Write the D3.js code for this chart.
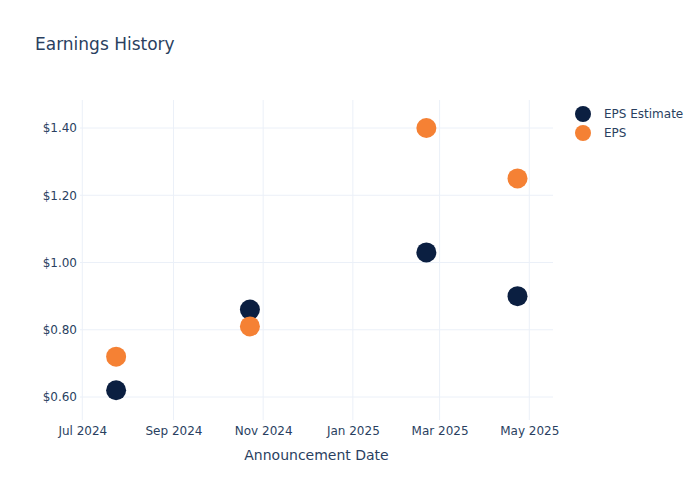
<!DOCTYPE html>
<html>
<head>
<meta charset="utf-8">
<script src="https://cdn.jsdelivr.net/npm/d3@7"></script>
<style>
  body { margin: 0; background: #fff; }
  text { font-family: "DejaVu Sans", Verdana, sans-serif; fill: #2a3f5f; }
</style>
</head>
<body>
<div id="chart"></div>
<script>
// data
const dates = ["2024-07-24", "2024-10-23", "2025-02-20", "2025-04-23"];
const epsEstimate = [0.62, 0.86, 1.03, 0.90];
const eps = [0.72, 0.81, 1.40, 1.25];
const yTicks = [0.60, 0.80, 1.00, 1.20, 1.40];
const xTicks = ["2024-07-01", "2024-09-01", "2024-11-01", "2025-01-01", "2025-03-01", "2025-05-01"];
const seriesNames = ["EPS Estimate", "EPS"];
const seriesColors = ["#0b1f41", "#f58134"];

const width = 700, height = 500;
const plotLeft = 80, plotRight = 553, plotTop = 100, plotBottom = 420;

const parse = d3.timeParse("%Y-%m-%d");

const svg = d3.select("#chart")
  .append("svg")
    .attr("width", width)
    .attr("height", height);

// x domain runs a little before Jul 1 and past May 1, like the autorange
const x = d3.scaleTime()
    .domain([new Date(2024, 5, 29, 10, 30), new Date(2025, 4, 17, 3, 0)])
    .range([plotLeft, plotRight]);

const y = d3.scaleLinear()
    .domain([0.5316, 1.4833])
    .range([plotBottom, plotTop]);

// gridlines
svg.append("g")
  .selectAll("line")
  .data(xTicks)
  .join("line")
    .attr("x1", d => x(parse(d)))
    .attr("x2", d => x(parse(d)))
    .attr("y1", plotTop)
    .attr("y2", plotBottom)
    .attr("stroke", "#ebf0f8")
    .attr("stroke-width", 1);

svg.append("g")
  .selectAll("line")
  .data(yTicks)
  .join("line")
    .attr("x1", plotLeft)
    .attr("x2", plotRight)
    .attr("y1", d => y(d))
    .attr("y2", d => y(d))
    .attr("stroke", "#ebf0f8")
    .attr("stroke-width", 1);

// axes (labels only, no domain lines)
const xAxis = d3.axisBottom(x)
    .tickValues(xTicks.map(parse))
    .tickFormat(d3.timeFormat("%b %Y"))
    .tickSize(0)
    .tickPadding(6);

svg.append("g")
    .attr("transform", `translate(0,${plotBottom})`)
    .call(xAxis)
    .call(g => g.select(".domain").remove())
    .call(g => g.selectAll("text")
        .attr("font-size", 12)
        .attr("fill", "#2a3f5f")
        .style("font-family", "DejaVu Sans, Verdana, sans-serif"));

const yAxis = d3.axisLeft(y)
    .tickValues(yTicks)
    .tickFormat(d => "$" + d.toFixed(2))
    .tickSize(0)
    .tickPadding(3);

svg.append("g")
    .attr("transform", `translate(${plotLeft},0)`)
    .call(yAxis)
    .call(g => g.select(".domain").remove())
    .call(g => g.selectAll("text")
        .attr("font-size", 12)
        .attr("fill", "#2a3f5f")
        .style("font-family", "DejaVu Sans, Verdana, sans-serif"));

// markers
const series = [epsEstimate, eps];
series.forEach((values, s) => {
    svg.append("g")
      .selectAll("circle")
      .data(values)
      .join("circle")
        .attr("cx", (d, i) => x(parse(dates[i])))
        .attr("cy", d => y(d))
        .attr("r", 10)
        .attr("fill", seriesColors[s]);
});

// title
svg.append("text")
    .attr("x", 35)
    .attr("y", 50)
    .attr("font-size", 17)
    .text("Earnings History");

// x axis title
svg.append("text")
    .attr("x", (plotLeft + plotRight) / 2)
    .attr("y", 460)
    .attr("text-anchor", "middle")
    .attr("font-size", 14)
    .text("Announcement Date");

// legend
const legend = svg.append("g");
seriesNames.forEach((name, i) => {
    legend.append("circle")
        .attr("cx", 583)
        .attr("cy", 114 + i * 19)
        .attr("r", 8)
        .attr("fill", seriesColors[i]);
    legend.append("text")
        .attr("x", 604)
        .attr("y", 114 + i * 19)
        .attr("dy", "0.35em")
        .attr("font-size", 12)
        .text(name);
});
</script>
</body>
</html>
